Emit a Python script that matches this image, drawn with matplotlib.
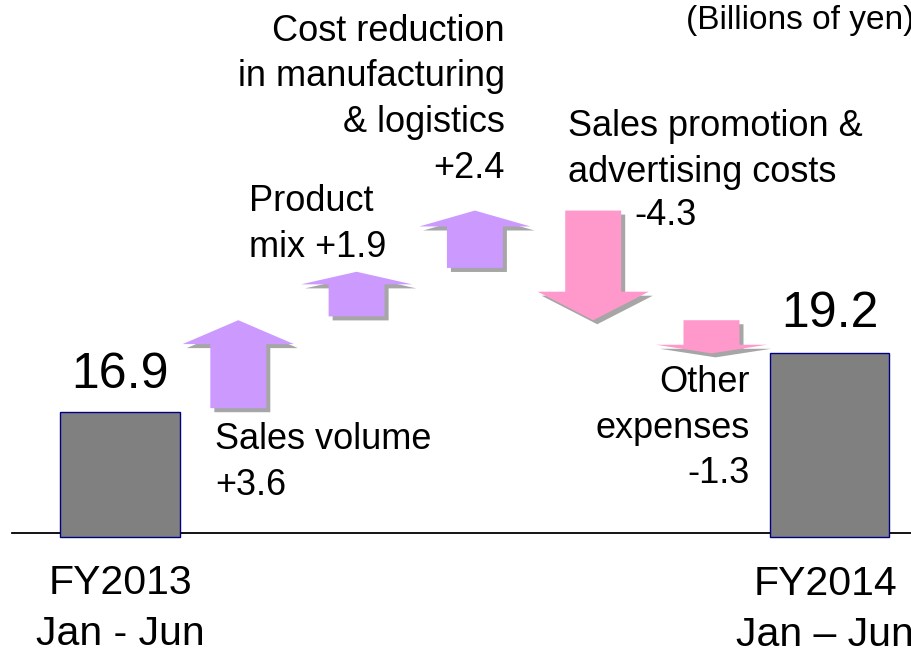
import matplotlib
matplotlib.use('Agg')
import matplotlib.pyplot as plt
import matplotlib.patheffects as pe
from matplotlib.patches import FancyArrow

# ===============================
# Datos (miles de millones de yenes)
# ===============================
inicio = 16.9
final = 19.2
cambios = [3.6, 1.9, 2.4, -4.3, -1.3]
etiquetas_cambios = [
    "Sales volume\n+3.6",
    "Product\nmix +1.9",
    "Cost reduction\nin manufacturing\n& logistics\n+2.4",
    "Sales promotion &\nadvertising costs",
    "Other\nexpenses\n-1.3",
]
etiquetas_barras = ["FY2013\nJan - Jun", "FY2014\nJan \u2013 Jun"]
unidad = "(Billions of yen)"

plt.rcParams['font.family'] = ['Liberation Sans', 'DejaVu Sans']

color_sube = '#CC99FF'
color_baja = '#FF99CC'
color_barra = '#808080'
sombra = [pe.SimplePatchShadow(offset=(2.9, -2.9), shadow_rgbFace='#A6A6A6', alpha=1.0), pe.Normal()]

fig = plt.figure(figsize=(9.12, 6.5), dpi=100)
ax = fig.add_axes([0, 0, 1, 1])
ax.set_xlim(-1.0144, 6.695)
ax.set_ylim(7.567, 33.057)
ax.axis('off')

# ===============================
# Barras inicial y final (eje cortado en 12)
# ===============================
base = 12.0
x_barras = [0, len(cambios) + 1]
ax.bar(x_barras, [inicio - base, final - base], bottom=base, width=1.006,
       color=color_barra, edgecolor='#000080', linewidth=1, zorder=3)
ax.axhline(12.16, xmin=12 / 912, xmax=1, color='black', linewidth=1.3, zorder=2)

# ===============================
# Flechas de variación
# ===============================
nivel = inicio
for i, c in enumerate(cambios):
    x = i + 1
    if c > 0:
        y0 = nivel + 0.15
        dy = c - 0.15
        color = color_sube
    else:
        y0 = nivel
        dy = c
        color = color_baja
    flecha = FancyArrow(x, y0, 0, dy, width=0.473, head_width=0.94,
                        head_length=0.26 * abs(c), length_includes_head=True,
                        facecolor=color, edgecolor='none', zorder=4)
    flecha.set_path_effects(sombra)
    ax.add_patch(flecha)
    nivel += c

# ===============================
# Textos (va='baseline' = línea base de la última línea)
# ===============================
ax.text(0, 17.83, f"{inicio}", ha='center', va='baseline', fontsize=36)
ax.text(6, 20.25, f"{final}", ha='center', va='baseline', fontsize=36)

ax.text(0, 7.76, etiquetas_barras[0], ha='center', va='baseline', fontsize=29.5,
        linespacing=1.45, multialignment='center')
ax.text(5.96, 7.72, etiquetas_barras[1], ha='center', va='baseline', fontsize=29.5,
        linespacing=1.45, multialignment='center')

ax.text(0.803, 13.645, etiquetas_cambios[0], ha='left', va='baseline', fontsize=26, linespacing=1.4)
ax.text(1.093, 22.99, etiquetas_cambios[1], ha='left', va='baseline', fontsize=26, linespacing=1.4)
ax.text(3.254, 26.08, etiquetas_cambios[2], ha='right', va='baseline', fontsize=26,
        linespacing=1.4, multialignment='right')
ax.text(3.787, 25.93, etiquetas_cambios[3], ha='left', va='baseline', fontsize=26, linespacing=1.4)
ax.text(4.345, 24.23, f"{cambios[3]}", ha='left', va='baseline', fontsize=26)
ax.text(5.32, 14.10, etiquetas_cambios[4], ha='right', va='baseline', fontsize=26,
        linespacing=1.4, multialignment='right')

ax.text(4.785, 31.91, unidad, ha='left', va='baseline', fontsize=24)

fig.savefig('out.png', dpi=100, facecolor='white')
